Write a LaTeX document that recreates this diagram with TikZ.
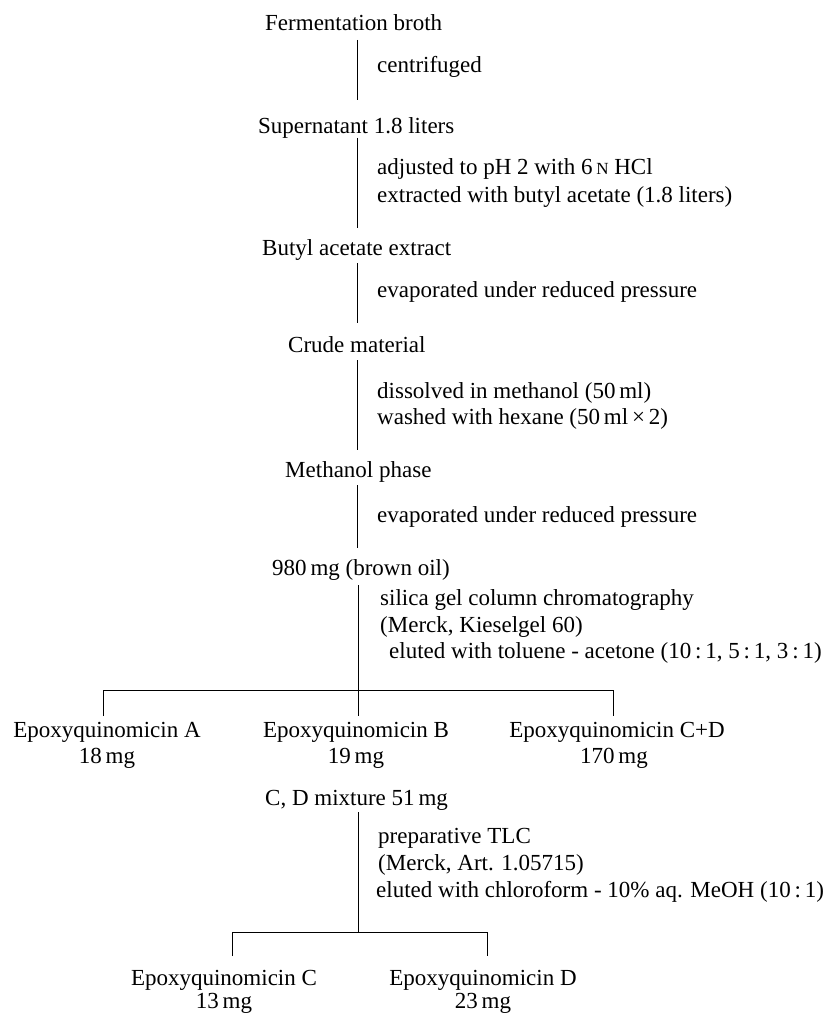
\documentclass[tikz,border=0pt]{standalone}
\usepackage{fontspec}
\setmainfont{Liberation Serif}
\begin{document}
\begin{tikzpicture}[x=1pt,y=-1pt,
  lbl/.style={anchor=base west,inner sep=0pt,font=\fontsize{23}{27}\selectfont},
  ctr/.style={anchor=base,inner sep=0pt,font=\fontsize{23}{27}\selectfont},
  ln/.style={line width=0.8pt,line cap=butt}]
\useasboundingbox (0,0) rectangle (824,1014);
\newcommand{\smN}{{\fontsize{17}{17}\selectfont N}}
% main column
\node[lbl] (n1) at (265,31) {Fermentation broth};
\node[lbl] (s1) at (377,73) {centrifuged};
\node[lbl] (n2) at (258,133) {Supernatant 1.8 liters};
\node[lbl] (s2a) at (377,174) {adjusted to pH 2 with 6\,\smN\ HCl};
\node[lbl] (s2b) at (377,202) {extracted with butyl acetate (1.8 liters)};
\node[lbl] (n3) at (262,255) {Butyl acetate extract};
\node[lbl] (s3) at (377,297) {evaporated under reduced pressure};
\node[lbl] (n4) at (288,352) {Crude material};
\node[lbl] (s4a) at (377,398) {dissolved in methanol (50\,ml)};
\node[lbl] (s4b) at (377,424) {washed with hexane (50\,ml\,×\,2)};
\node[lbl] (n5) at (285,477) {Methanol phase};
\node[lbl] (s5) at (377,522) {evaporated under reduced pressure};
\node[lbl] (n6) at (272,575) {980\,mg (brown oil)};
\node[lbl] (s6a) at (380,605) {silica gel column chromatography};
\node[lbl] (s6b) at (380,632) {(Merck, Kieselgel 60)};
\node[lbl] (s6c) at (389,658) {eluted with toluene - acetone (10\,:\,1, 5\,:\,1, 3\,:\,1)};
% first branch products
\node[ctr] (pA) at (107,737) {Epoxyquinomicin A};
\node[ctr] (mA) at (107,763) {18\,mg};
\node[ctr] (pB) at (356,737) {Epoxyquinomicin B};
\node[ctr] (mB) at (356,763) {19\,mg};
\node[ctr] (pCD) at (617,737) {Epoxyquinomicin C+D};
\node[ctr] (mCD) at (614,763) {170\,mg};
\node[lbl] (n7) at (265,805) {C, D mixture 51\,mg};
\node[lbl] (s7a) at (378,843) {preparative TLC};
\node[lbl] (s7b) at (378,870) {(Merck, Art. 1.05715)};
\node[lbl] (s7c) at (376,897) {eluted with chloroform - 10\% aq. MeOH (10\,:\,1)};
\node[ctr] (pC) at (224,985) {Epoxyquinomicin C};
\node[ctr] (mC) at (224,1008) {13\,mg};
\node[ctr] (pD) at (483,985) {Epoxyquinomicin D};
\node[ctr] (mD) at (483,1008) {23\,mg};
% connector coordinates
\coordinate (a1) at (357,40);  \coordinate (b1) at (357,100);
\coordinate (a2) at (357,138); \coordinate (b2) at (357,228);
\coordinate (a3) at (357,263); \coordinate (b3) at (357,323);
\coordinate (a4) at (357,360); \coordinate (b4) at (357,450);
\coordinate (a5) at (357,485); \coordinate (b5) at (357,548);
\coordinate (a6) at (358,585); \coordinate (h6) at (358,690);
\coordinate (m6) at (358,716);
\coordinate (l6) at (103,690); \coordinate (l6b) at (103,716);
\coordinate (r6) at (613,690); \coordinate (r6b) at (613,716);
\coordinate (a7) at (358,812); \coordinate (h7) at (358,932);
\coordinate (l7) at (232,932); \coordinate (l7b) at (232,956);
\coordinate (r7) at (487,932); \coordinate (r7b) at (487,956);
\draw[ln] (a1) -- (b1);
\draw[ln] (a2) -- (b2);
\draw[ln] (a3) -- (b3);
\draw[ln] (a4) -- (b4);
\draw[ln] (a5) -- (b5);
\draw[ln] (a6) -- (m6);
\draw[ln] (l6b) -- (l6) -- (r6) -- (r6b);
\draw[ln] (a7) -- (h7);
\draw[ln] (l7b) -- (l7) -- (r7) -- (r7b);
\end{tikzpicture}
\end{document}
